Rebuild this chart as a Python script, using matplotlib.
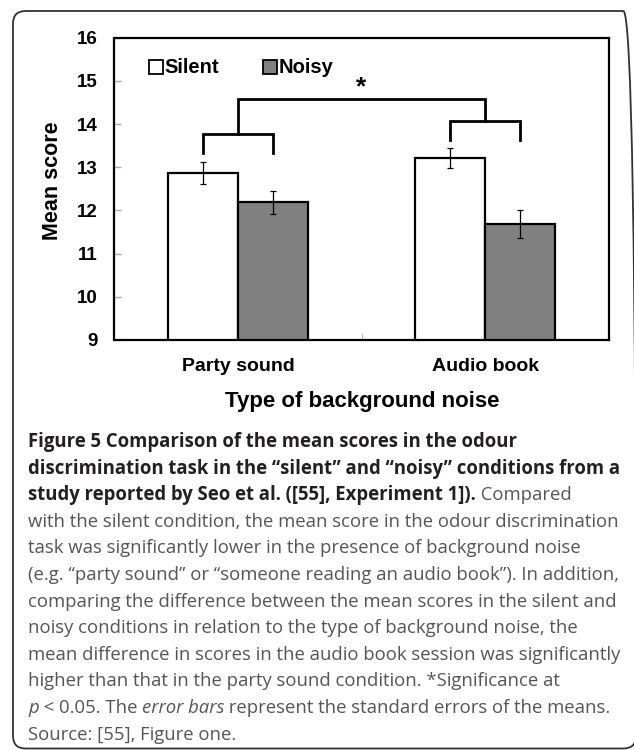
import numpy as np
import matplotlib
matplotlib.use('Agg')
import matplotlib.pyplot as plt
from matplotlib.patches import FancyBboxPatch

# data
groups = ['Party sound', 'Audio book']
conditions = ['Silent', 'Noisy']
silent_mean = [12.87, 13.21]
silent_se = [0.26, 0.23]
noisy_mean = [12.19, 11.68]
noisy_se = [0.27, 0.32]
y_ticks = [9, 10, 11, 12, 13, 14, 15, 16]

# significance brackets (score units)
pair_top = [13.76, 14.08]
pair_leg = [13.32, 13.63]
across_top = 14.57
star_y = 14.86

caption = [
    [("Figure 5 Comparison of the mean scores in the odour", 'b')],
    [("discrimination task in the \u201csilent\u201d and \u201cnoisy\u201d conditions from a", 'b')],
    [("study reported by Seo et al. ([55], Experiment 1]).", 'b'), (" Compared", 'r')],
    [("with the silent condition, the mean score in the odour discrimination", 'r')],
    [("task was significantly lower in the presence of background noise", 'r')],
    [("(e.g. \u201cparty sound\u201d or \u201csomeone reading an audio book\u201d). In addition,", 'r')],
    [("comparing the difference between the mean scores in the silent and", 'r')],
    [("noisy conditions in relation to the type of background noise, the", 'r')],
    [("mean difference in scores in the audio book session was significantly", 'r')],
    [("higher than that in the party sound condition. *Significance at", 'r')],
    [("p", 'i'), (" < 0.05. The ", 'r'), ("error bars", 'i'),
     (" represent the standard errors of the means.", 'r')],
    [("Source: [55], Figure one.", 'r')],
]

W, H = 634, 750
plt.rcParams['font.family'] = ['Liberation Sans', 'DejaVu Sans']
fig = plt.figure(figsize=(W / 100, H / 100), dpi=100)

# outer rounded frame
frame = FancyBboxPatch((13 / W, 1.5 / H), (623 / W), (737.5 / H),
                       boxstyle="round,pad=0,rounding_size=0.02",
                       transform=fig.transFigure, fill=False,
                       edgecolor='#333333', linewidth=1.3, mutation_aspect=W / H)
fig.patches.append(frame)

ax = fig.add_axes([114.5 / W, 1 - 340 / H, 494 / W, 302.3 / H])

x = np.arange(len(groups))
w = 0.282
ax.bar(x - w / 2, silent_mean, w, color='white', edgecolor='black', linewidth=1.6, zorder=2)
ax.bar(x + w / 2, noisy_mean, w, color='#808080', edgecolor='black', linewidth=1.6, zorder=2)
ax.errorbar(x - w / 2, silent_mean, yerr=silent_se, fmt='none', ecolor='black',
            elinewidth=0.9, capsize=2, capthick=0.9, zorder=3)
ax.errorbar(x + w / 2, noisy_mean, yerr=noisy_se, fmt='none', ecolor='black',
            elinewidth=0.9, capsize=2, capthick=0.9, zorder=3)

# brackets
for i in range(len(groups)):
    ax.plot([x[i] - w / 2, x[i] - w / 2, x[i] + w / 2, x[i] + w / 2],
            [pair_leg[i], pair_top[i], pair_top[i], pair_leg[i]],
            color='black', lw=2, solid_joinstyle='miter', zorder=4)
ax.plot([x[0], x[0], x[1], x[1]], [pair_top[0], across_top, across_top, pair_top[1]],
        color='black', lw=2, solid_joinstyle='miter', zorder=4)
ax.text(0.5, star_y, '*', ha='center', va='center', fontsize=19, fontweight='bold')

ax.set_xlim(-0.5, 1.5)
ax.set_ylim(9, 16)
ax.set_yticks(y_ticks)
ax.set_yticklabels([str(t) for t in y_ticks], fontweight='bold', fontsize=13.5)
ax.tick_params(axis='y', direction='in', length=5, color='#aaaaaa', width=1, pad=12)
ax.set_xticks(x)
ax.set_xticklabels(groups, fontweight='bold', fontsize=14)
ax.tick_params(axis='x', length=0, pad=13)
ax.set_xticks([0.5], minor=True)
ax.tick_params(axis='x', which='minor', direction='in', length=5, color='#aaaaaa')
for s in ax.spines.values():
    s.set_linewidth(1.6)

# legend
ax.plot([0.085], [0.903], marker='s', ms=9.5, mfc='white', mec='black', mew=1.3,
        transform=ax.transAxes, clip_on=False)
ax.text(0.102, 0.903, conditions[0], transform=ax.transAxes, va='center',
        fontsize=14.5, fontweight='bold')
ax.plot([0.315], [0.903], marker='s', ms=9.5, mfc='#808080', mec='black', mew=1.3,
        transform=ax.transAxes, clip_on=False)
ax.text(0.332, 0.903, conditions[1], transform=ax.transAxes, va='center',
        fontsize=14.5, fontweight='bold')

fig.text(52 / W, 1 - 181 / H, 'Mean score', rotation=90, ha='center', va='center',
         fontsize=15.5, fontweight='bold')
fig.text(362 / W, 1 - 402 / H, 'Type of background noise', ha='center', va='center',
         fontsize=16, fontweight='bold')

# caption
fig.canvas.draw()
r = fig.canvas.get_renderer()
cap_font = ['Open Sans', 'DejaVu Sans']

def width_of(s, size, weight='normal', style='normal'):
    t = fig.text(0, 0, s, fontsize=size, family=cap_font, fontweight=weight, fontstyle=style)
    wd = t.get_window_extent(r).width
    t.remove()
    return wd

reg_size = 12 * 588 / width_of(caption[3][0][0], 12)
bold_size = 12 * 590 / width_of(caption[1][0][0], 12, 'bold')

styles = {'b': dict(fontweight='bold', color='#231f20', fontsize=bold_size),
          'r': dict(fontweight='normal', color='#555555', fontsize=reg_size),
          'i': dict(fontweight='normal', fontstyle='italic', color='#555555', fontsize=reg_size)}

y0 = 442
for k, line in enumerate(caption):
    xp = 28
    yp = y0 + k * 26.6
    for s, st in line:
        t = fig.text(xp / W, 1 - yp / H, s, va='center', ha='left', family=cap_font, **styles[st])
        xp += t.get_window_extent(r).width

fig.savefig('out.png', dpi=100)
